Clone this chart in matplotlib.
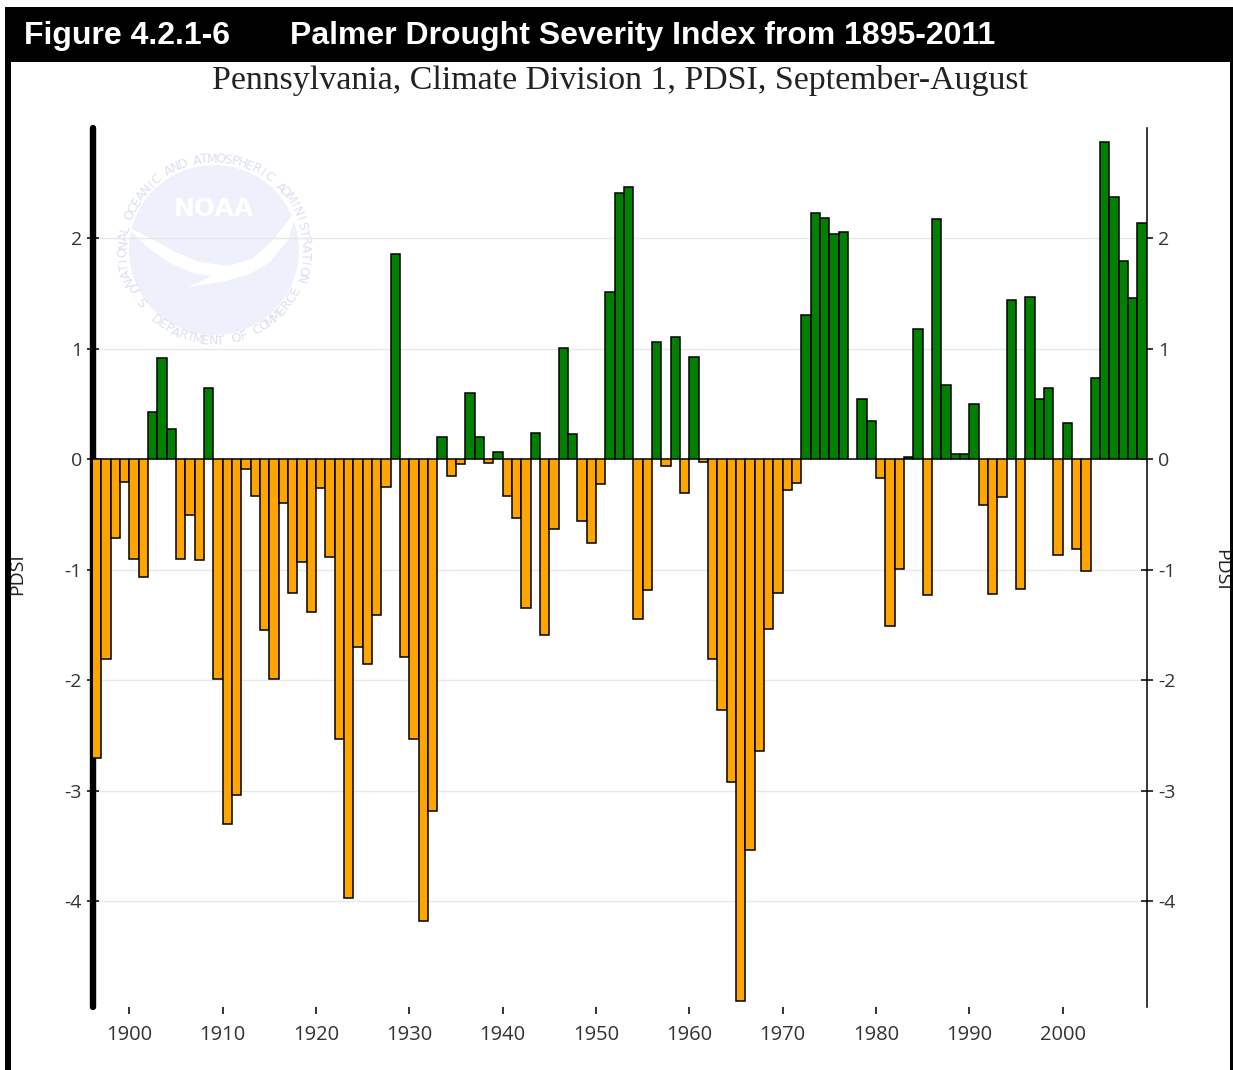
import matplotlib
matplotlib.use("Agg")
import matplotlib.pyplot as plt
import numpy as np
from matplotlib.patches import Rectangle, Circle, Polygon

# ---------------- data ----------------
years = list(range(1896, 2009))
pdsi = [
    -2.70, -1.81, -0.71, -0.20, -0.90, -1.06, 0.43, 0.92, 0.28, -0.90,   # 1896-1905
    -0.50, -0.91, 0.65, -1.99, -3.30, -3.04, -0.09, -0.33, -1.54, -1.99,  # 1906-1915
    -0.39, -1.21, -0.93, -1.38, -0.26, -0.88, -2.53, -3.97, -1.70, -1.85, # 1916-1925
    -1.41, -0.25, 1.86, -1.79, -2.53, -4.18, -3.18, 0.20, -0.15, -0.04,   # 1926-1935
    0.60, 0.20, -0.03, 0.07, -0.33, -0.53, -1.34, 0.24, -1.59, -0.63,     # 1936-1945
    1.01, 0.23, -0.56, -0.76, -0.22, 1.52, 2.41, 2.47, -1.44, -1.18,      # 1946-1955
    1.06, -0.06, 1.11, -0.30, 0.93, -0.02, -1.81, -2.27, -2.92, -4.90,    # 1956-1965
    -3.53, -2.64, -1.53, -1.21, -0.28, -0.21, 1.31, 2.23, 2.19, 2.04,     # 1966-1975
    2.06, 0.00, 0.55, 0.35, -0.17, -1.51, -0.99, 0.02, 1.18, -1.23,       # 1976-1985
    2.18, 0.67, 0.05, 0.05, 0.50, -0.41, -1.22, -0.34, 1.44, -1.17,       # 1986-1995
    1.47, 0.55, 0.65, -0.86, 0.33, -0.81, -1.01, 0.74, 2.87, 2.38,        # 1996-2005
    1.80, 1.46, 2.14,                                                     # 2006-2008
]
assert len(years) == len(pdsi)

header_label = "Figure 4.2.1-6"
header_title = "Palmer Drought Severity Index from 1895-2011"
subtitle = "Pennsylvania, Climate Division 1, PDSI, September-August"
xtick_years = [1900, 1910, 1920, 1930, 1940, 1950, 1960, 1970, 1980, 1990, 2000]
ytick_vals = [-4, -3, -2, -1, 0, 1, 2]
ytick_labels = ["-4", "-3", "-2", "-1", "0", "1", "2"]
y_label = "PDSI"

POS_COLOR = "#008000"
NEG_COLOR = "#FFA500"

# ---------------- figure ----------------
W, H = 1233, 1070
fig = plt.figure(figsize=(W / 100, H / 100), dpi=100)
fig.patch.set_facecolor("white")

def fx(x):
    return x / W

def fy(y):
    return 1 - y / H

AX_L, AX_R, AX_T, AX_B = 93, 1146.7, 128, 1007
ax = fig.add_axes([fx(AX_L), fy(AX_B), (AX_R - AX_L) / W, (AX_B - AX_T) / H])

colors = [POS_COLOR if v >= 0 else NEG_COLOR for v in pdsi]
ax.bar(years, pdsi, width=1.0, align="edge", color=colors,
       edgecolor="black", linewidth=1.1, zorder=3)

ax.set_xlim(1896.11, 2009.0)
ax.set_ylim(-4.955, 3.0)

ax.set_yticks(ytick_vals)
ax.set_yticklabels(ytick_labels)
ax.set_xticks(xtick_years)
ax.set_xticklabels([str(y) for y in xtick_years])

ax.grid(axis="y", color="#e8e8e8", linewidth=1.0)
ax.set_axisbelow(True)

for s in ["top", "bottom"]:
    ax.spines[s].set_visible(False)
ax.spines["left"].set_linewidth(4.6)
ax.spines["left"].set_capstyle("round")
ax.spines["left"].set_color("black")
ax.spines["right"].set_linewidth(1.1)
ax.spines["right"].set_color("black")

tick_font = "Open Sans"
ax.tick_params(axis="y", which="both", left=True, right=True,
               labelleft=True, labelright=True, direction="inout",
               length=8, width=1.1, color="black", labelsize=14,
               labelcolor="#333333", pad=4)
ax.tick_params(axis="x", direction="out", length=5, width=1.4,
               color="#333333", labelsize=14.5, labelcolor="#333333", pad=8)
for lab in ax.get_xticklabels() + ax.get_yticklabels():
    lab.set_fontfamily(tick_font)
for t in ax.yaxis.get_major_ticks():
    t.label1.set_fontfamily(tick_font)
    t.label2.set_fontfamily(tick_font)

# ---------------- NOAA watermark (faint) ----------------
tr = fig.dpi_scale_trans

def P(x, y):
    return (x / 100.0, (H - y) / 100.0)

cx, cy = 214, 250
disc = Circle(P(cx, cy), 0.85, transform=tr, facecolor="#eef0fb",
              edgecolor="none", zorder=0.1, clip_on=False)
ax.add_artist(disc)
gull_px = [(126, 226), (150, 238), (175, 252), (200, 262), (228, 266),
           (252, 259), (273, 240), (298, 208), (288, 240), (270, 262),
           (250, 274), (222, 282), (188, 287), (212, 276), (192, 273),
           (168, 262), (146, 246)]
gull = Polygon([P(x, y) for x, y in gull_px], closed=True, transform=tr,
               facecolor="white", edgecolor="none", zorder=0.15, clip_on=False)
ax.add_artist(gull)
ax.text(*P(214, 209), "NOAA", transform=tr, ha="center", va="center",
        fontsize=18, fontweight="bold", color="white", family="DejaVu Sans",
        zorder=0.2, clip_on=False)

def ring_text(text, a0, a1, r, upper=True):
    n = len(text)
    angs = np.linspace(a0, a1, n)
    for ch, a in zip(text, angs):
        rad = np.deg2rad(a)
        x = cx + r * np.cos(rad)
        y = cy - r * np.sin(rad)
        rot = a - 90 if upper else a + 90
        ax.text(*P(x, y), ch, transform=tr, ha="center", va="center",
                rotation=rot, rotation_mode="anchor", fontsize=9,
                color="#dcdff4", family="DejaVu Sans", zorder=0.2,
                clip_on=False)

ring_text("NATIONAL OCEANIC AND ATMOSPHERIC ADMINISTRATION", 200, -18, 91, True)
ring_text("U.S. DEPARTMENT OF COMMERCE", 206, 333, 91, False)

# ---------------- header, frame, titles ----------------
fig.add_artist(Rectangle((fx(5), fy(62)), 1 - fx(5), (62 - 7) / H,
                         transform=fig.transFigure, facecolor="black",
                         edgecolor="none", zorder=5))
fig.add_artist(Rectangle((fx(5), 0), (10.5 - 5) / W, fy(7),
                         transform=fig.transFigure, facecolor="black",
                         edgecolor="none", zorder=5))
fig.add_artist(Rectangle((fx(1230), 0), 3 / W, fy(7),
                         transform=fig.transFigure, facecolor="black",
                         edgecolor="none", zorder=5))

fig.text(fx(24), fy(36), header_label, ha="left", va="center", color="white",
         fontsize=23, fontweight="bold", family="Liberation Sans", zorder=6)
fig.text(fx(290), fy(36), header_title, ha="left", va="center", color="white",
         fontsize=23, fontweight="bold", family="Liberation Sans", zorder=6)

fig.text(fx(620), fy(80), subtitle, ha="center", va="center", color="#222222",
         fontsize=24.4, family="Liberation Serif")

fig.text(fx(17), fy(574), y_label, rotation=90, ha="center", va="center",
         fontsize=14, family=tick_font, color="#222222")
fig.text(fx(1221), fy(570), y_label, rotation=270, ha="center", va="center",
         fontsize=14, family=tick_font, color="#222222")

fig.savefig("out.png", dpi=100, facecolor="white")
